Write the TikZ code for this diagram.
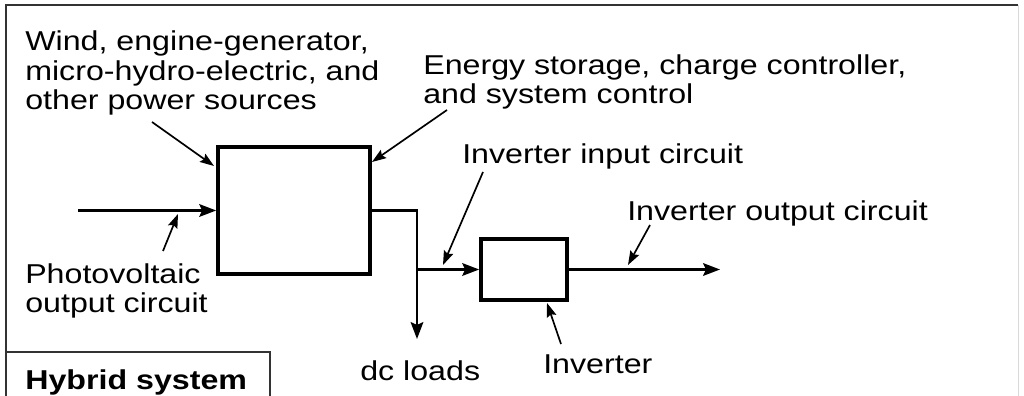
\documentclass[tikz,border=0pt]{standalone}
\usepackage{fontspec}
\setmainfont{Liberation Sans}[FakeStretch=1.18]
\usetikzlibrary{arrows.meta}
\tikzset{
    >={Stealth[length=12pt, width=9pt, inset=2pt]},
    block/.style={draw, line width=2.6pt},
    wire/.style={line width=1.6pt},
    pointer/.style={line width=1.2pt, -{Stealth[length=10pt, width=7pt, inset=1.5pt]}},
    caption/.style={anchor=base west, inner sep=0pt, align=left,
        font=\fontsize{19.4}{21.3}\selectfont},
    frame/.style={line width=1.8pt, black!80},
}

\begin{document}
\begin{tikzpicture}
        \useasboundingbox (0,0) rectangle (25.6,9.9);
        % outer frame and the title box
        \draw[frame] (0.15,0) -- (0.15,9.775) -- (25.45,9.775);
        \draw[black!15, line width=0.6pt] (25.45,9.775) -- (25.45,0);
        \draw[frame, line width=1.3pt] (0.15,1.1) -- (6.75,1.1) -- (6.75,0);
        \node[caption, font=\fontsize{19.4}{21.3}\selectfont\bfseries] (hybrid) at (0.625,0.15) {Hybrid system};
        % blocks
        \node[block, minimum width=3.8cm, minimum height=3.175cm] (ctrl) at (7.35,4.6375) {};
        \node[block, minimum width=2.15cm, minimum height=1.525cm] (inv) at (13.1,3.1625) {};
        % wiring
        \coordinate (pvin) at (1.95,4.6375);
        \coordinate (bus) at (10.425,3.1625);
        \coordinate (dcend) at (10.425,1.425);
        \coordinate (acend) at (18,3.1625);
        \draw[wire, ->] (pvin) -- (ctrl.west);
        \draw[wire, ->] (ctrl.east) -| (dcend);
        \draw[wire, ->] (bus) -- (inv.west);
        \draw[wire, ->] (inv.east) -- (acend);
        % labels (multi-line ones sit on their last baseline)
        \node[caption] (wind) at (0.625,7.15) {Wind, engine-generator,\\micro-hydro-electric, and\\other power sources};
        \node[caption] (storage) at (10.575,7.3) {Energy storage, charge controller,\\and system control};
        \node[caption] (input) at (11.55,5.8) {Inverter input circuit};
        \node[caption] (output) at (15.675,4.375) {Inverter output circuit};
        \node[caption] (pv) at (0.625,2.075) {Photovoltaic\\output circuit};
        \node[caption] (invlabel) at (13.575,0.575) {Inverter};
        \node[caption] (loads) at (9.0,0.375) {dc loads};
        % pointers from the labels
        \foreach \s/\t [count=\i] in {{3.8,6.85}/{5.35,5.75}, {11.175,7.15}/{9.3,5.85},
                {12.075,5.6}/{11.075,3.275}, {16.25,4.275}/{15.7,3.275},
                {4.075,3.625}/{4.45,4.55}, {14.025,1.3}/{13.675,2.325}} {
            \coordinate (ptr\i a) at (\s);
            \coordinate (ptr\i b) at (\t);
            \draw[pointer] (ptr\i a) -- (ptr\i b);
        }
\end{tikzpicture}
\end{document}
